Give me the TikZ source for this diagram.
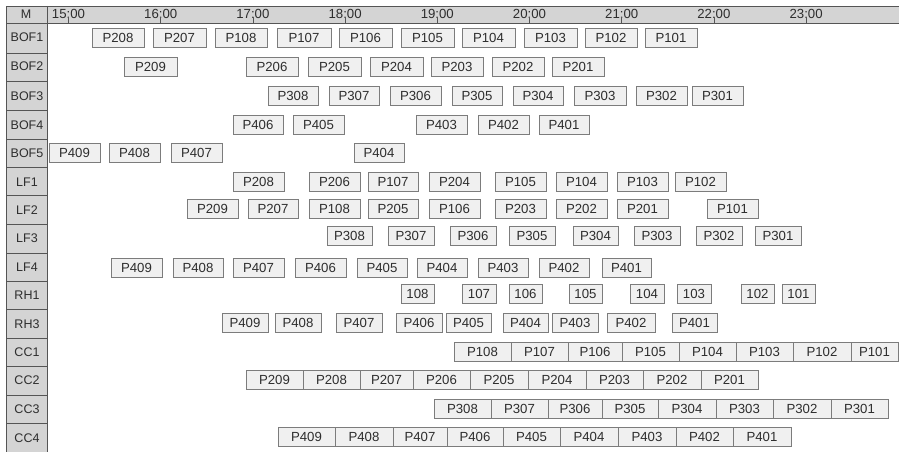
\documentclass[tikz,border=0pt]{standalone}
\usepackage{fontspec}
\setmainfont{Liberation Sans}
\definecolor{colgray}{HTML}{D4D4D4}
\definecolor{boxfill}{HTML}{F0F0F0}
\definecolor{boxline}{HTML}{7C7C7C}
\definecolor{txt}{HTML}{2E2E2E}
\definecolor{frame}{HTML}{555555}
\begin{document}
\begin{tikzpicture}[x=1pt,y=-1pt,
  gbox/.style={draw=boxline,fill=boxfill,line width=0.9pt,inner sep=0pt,minimum height=19pt,text=txt,font=\fontsize{13.2}{15}\selectfont},
  rowlab/.style={text=txt,inner sep=0pt,font=\fontsize{12.5}{14}\selectfont},
  timelab/.style={text=txt,inner sep=0pt,font=\fontsize{13.2}{15}\selectfont},
  frm/.style={draw=frame,line width=0.9pt}]
\useasboundingbox (0,0) rectangle (899,452);
% left column and header
\fill[colgray] (6,6) rectangle (47.5,452);
\fill[colgray] (48,6) rectangle (899,23);
\draw[frm] (6,452) -- (6,6) -- (899,6);
\draw[frm] (6,23) -- (899,23);
\draw[frm,line width=1.3pt] (47.5,6) -- (47.5,452);
\foreach \yy in {53,81,110,139,167,195,224,253,281,309,338,366,395,423}
  \draw[frm] (6,\yy) -- (47.5,\yy);
\node[rowlab] (hM) at (26,14.5) {M};
\foreach \nm/\yy in {BOF1/37.5,BOF2/66.5,BOF3/96,BOF4/125,BOF5/153.5,LF1/182,LF2/210,LF3/238.5,LF4/267,RH1/295.5,RH3/324,CC1/352.5,CC2/380.5,CC3/409,CC4/438}
  \node[rowlab] (lab\nm) at (27,\yy) {\nm};
% time axis
\foreach \hh [count=\i from 0] in {15,16,17,18,19,20,21,22,23}{
  \pgfmathsetmacro\tx{68.5+92.2*\i}
  \node[timelab] (t\hh) at (\tx,14) {\hh:00};
  \draw[frm,line width=0.6pt] (\tx,17.5) -- (\tx,23);
}
% boxes
\newcommand\boxrow[3]{%
  \foreach \t/\a/\b in {#3}{%
    \pgfmathsetmacro\w{\b-\a}%
    \pgfmathsetmacro\c{(\a+\b)/2}%
    \node[gbox,minimum width=\w pt] (#1\t) at (\c,#2) {\t};
  }}
\boxrow{bofA}{38}{P208/92/144,P207/153/206,P108/215/267,P107/277/331,P106/339/392,P105/401/454,P104/462/515,P103/524/577,P102/585/637,P101/645/697}
\boxrow{bofB}{67}{P209/124/177,P206/246/298,P205/308/361,P204/370/423,P203/431/483,P202/492/544,P201/552/604}
\boxrow{bofC}{96}{P308/268/318,P307/329/379,P306/390/441,P305/452/502,P304/513/563,P303/574/626,P302/636/687,P301/692/743}
\boxrow{bofD}{125}{P406/233/283,P405/293/344,P403/416/467,P402/478/529,P401/539/589}
\boxrow{bofE}{153}{P409/49/100,P408/109/160,P407/171/222,P404/354/404}
\boxrow{lfA}{182}{P208/233/284,P206/309/360,P107/368/418,P204/429/480,P105/495/546,P104/556/607,P103/617/668,P102/675/726}
\boxrow{lfB}{209}{P209/187/238,P207/248/298,P108/309/360,P205/368/418,P106/429/480,P203/495/546,P202/556/607,P201/617/668,P101/707/758}
\boxrow{lfC}{236}{P308/327/372,P307/388/434,P306/450/496,P305/509/555,P304/573/618,P303/634/680,P302/696/742,P301/755/801}
\boxrow{lfD}{268}{P409/111/162,P408/173/223,P407/233/284,P406/295/346,P405/357/407,P404/417/467,P403/478/528,P402/539/589,P401/602/651}
\boxrow{rhA}{294}{108/401/434,107/462/496,106/509/542,105/569/602,104/630/664,103/677/711,102/741/774,101/782/815}
\boxrow{rhC}{323}{P409/222/268,P408/275/321,P407/336/382,P406/396/442,P405/446/491,P404/503/548,P403/552/598,P402/607/655,P401/672/717}
\boxrow{ccA}{352}{P108/454/511,P107/511/568,P106/568/622,P105/622/679,P104/679/736,P103/736/793,P102/793/851,P101/851/898}
\boxrow{ccB}{380}{P209/246/303,P208/303/360,P207/360/413,P206/413/470,P205/470/528,P204/528/586,P203/586/643,P202/643/701,P201/701/758}
\boxrow{ccC}{409}{P308/434/491,P307/491/548,P306/548/602,P305/602/658,P304/658/716,P303/716/773,P302/773/831,P301/831/888}
\boxrow{ccD}{437}{P409/278/335,P408/335/393,P407/393/447,P406/447/503,P405/503/560,P404/560/618,P403/618/676,P402/676/733,P401/733/791}
\end{tikzpicture}
\end{document}
